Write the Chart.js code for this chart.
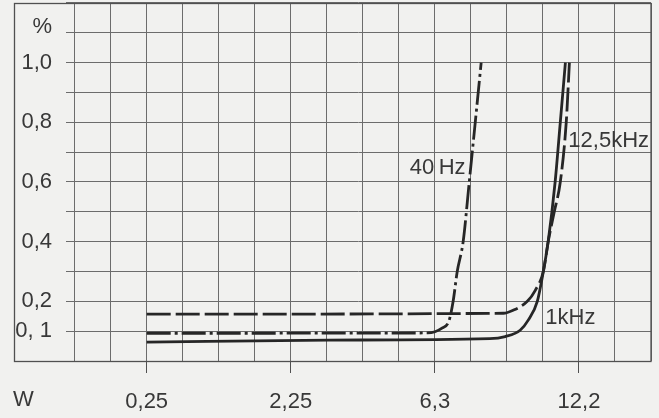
<!DOCTYPE html>
<html>
<head>
<meta charset="utf-8">
<script src="https://cdn.jsdelivr.net/npm/chart.js@4.4.1/dist/chart.umd.min.js"></script>
<style>
  html, body { margin: 0; padding: 0; background: #f1f1ef; }
  #wrap { width: 659px; height: 418px; position: relative; }
</style>
</head>
<body>
<div id="wrap"><canvas id="thd--chart"></canvas></div>
<script>
'use strict'

// output power (W) against distortion (%)
const power_40hz = [0.25, 6.0, 6.5, 6.75, 6.9, 7.05, 7.27, 7.5, 7.73, 7.96]
const thd_40hz = [0.093, 0.094, 0.11, 0.135, 0.2, 0.3, 0.4, 0.6, 0.8, 1.0]

const power_1khz = [0.25, 3.1, 8.3, 8.93, 9.56, 9.91, 10.31, 10.58, 10.8, 11.12, 11.36, 11.6]
const thd_1khz = [0.063, 0.07, 0.075, 0.082, 0.103, 0.137, 0.2, 0.3, 0.4, 0.6, 0.8, 1.0]

const power_12k5 = [0.25, 8.85, 9.26, 9.87, 10.22, 10.58, 10.8, 11.08, 11.36, 11.64, 11.79]
const thd_12k5 = [0.157, 0.16, 0.17, 0.2, 0.237, 0.3, 0.4, 0.5, 0.6, 0.8, 1.0]

// tick labels
const x_tick_watts = [0.25, 2.25, 6.3, 12.2]
const x_tick_labels = ['0,25', '2,25', '6,3', '12,2']
const y_tick_values = [0.1, 0.2, 0.4, 0.6, 0.8, 1.0]
const y_tick_labels = ['0, 1', '0,2', '0,4', '0,6', '0,8', '1,0']

const ink = '#262626'
const text_grey = '#383838'
const grid_grey = '#6c6c6c'
const font = { family: 'Liberation Sans', size: 22 }

// the power axis is scaled by the square root of W
const to_points = (watts, thd) => watts.map((w, i) => ({ x: Math.sqrt(w), y: thd[i] }))

const find_label = (value, positions, labels) => {
    const i = positions.findIndex(p => Math.abs(p - value) < 0.03)
    return i >= 0 ? labels[i] : ''
}
const x_label = value => find_label(value, x_tick_watts.map(Math.sqrt), x_tick_labels)
const y_label = value => find_label(value, y_tick_values, y_tick_labels)

const line_style = {
    borderColor: ink,
    borderWidth: 2.8,
    pointRadius: 0,
    fill: false,
    showLine: true,
    cubicInterpolationMode: 'monotone'
}

const frame_and_text = {
    id: 'frame_and_text',
    afterDraw(chart) {
        const ctx = chart.ctx
        const area = chart.chartArea
        const x = chart.scales.x
        const y = chart.scales.y
        ctx.save()
        ctx.strokeStyle = '#505050'
        ctx.lineWidth = 1.3
        ctx.strokeRect(14.5, area.top + 0.5, area.right - 14.5, area.bottom - area.top)

        ctx.fillStyle = text_grey
        ctx.font = font.size + 'px ' + font.family
        ctx.textBaseline = 'middle'

        ctx.textAlign = 'right'
        ctx.fillText('%', y.right - 14, y.getPixelForValue(1.12))
        ctx.fillText('40\u2009Hz', x.getPixelForValue(Math.sqrt(7.36)), y.getPixelForValue(0.647))

        ctx.textAlign = 'left'
        ctx.fillText('12,5kHz', x.getPixelForValue(Math.sqrt(11.74)), y.getPixelForValue(0.737))
        ctx.fillText('1kHz', x.getPixelForValue(Math.sqrt(10.67)), y.getPixelForValue(0.143))

        ctx.textBaseline = 'top'
        ctx.fillText('W', 13, x.top + 12 + 16)
        ctx.restore()
    }
}

const thd_chart = {
    type: 'scatter',
    data: {
        datasets: [
            Object.assign({ label: '40 Hz', data: to_points(power_40hz, thd_40hz), borderDash: [24, 4, 3, 4] }, line_style),
            Object.assign({ label: '1 kHz', data: to_points(power_1khz, thd_1khz) }, line_style),
            Object.assign({ label: '12,5 kHz', data: to_points(power_12k5, thd_12k5), borderDash: [24, 5] }, line_style)
        ]
    },
    options: {
        responsive: true,
        maintainAspectRatio: false,
        animation: false,
        layout: { padding: { top: 3, right: 8, bottom: 0, left: 0 } },
        plugins: { legend: { display: false }, tooltip: { enabled: false } },
        scales: {
            x: {
                type: 'linear',
                min: -0.06,
                max: 4.0,
                afterBuildTicks(scale) {
                    const ticks = []
                    for (let k = 0; k <= 16; k++) ticks.push({ value: k * 0.25 })
                    scale.ticks = ticks
                },
                afterFit(scale) {
                    scale.height = 57
                    scale.paddingLeft = 0
                    scale.paddingRight = 0
                },
                border: { display: false },
                grid: {
                    color: grid_grey,
                    lineWidth: 1,
                    tickLength: 12,
                    tickColor: ctx => x_label(ctx.tick.value) ? '#505050' : 'rgba(0,0,0,0)'
                },
                ticks: {
                    autoSkip: false,
                    maxRotation: 0,
                    padding: 16,
                    color: text_grey,
                    font: font,
                    callback: value => x_label(value)
                }
            },
            y: {
                type: 'linear',
                min: 0,
                max: 1.2,
                afterBuildTicks(scale) {
                    const ticks = []
                    for (let k = 0; k <= 12; k++) ticks.push({ value: k * 0.1 })
                    scale.ticks = ticks
                },
                afterFit(scale) {
                    scale.width = 66
                    scale.paddingTop = 0
                    scale.paddingBottom = 0
                },
                border: { display: false },
                grid: { color: grid_grey, lineWidth: 1, drawTicks: false },
                ticks: {
                    autoSkip: false,
                    padding: 14,
                    color: text_grey,
                    font: font,
                    callback: value => y_label(value)
                }
            }
        }
    },
    plugins: [frame_and_text]
}

document.addEventListener('DOMContentLoaded', function() {
    new Chart(document.getElementById('thd--chart').getContext('2d'), thd_chart)
})
</script>
</body>
</html>
